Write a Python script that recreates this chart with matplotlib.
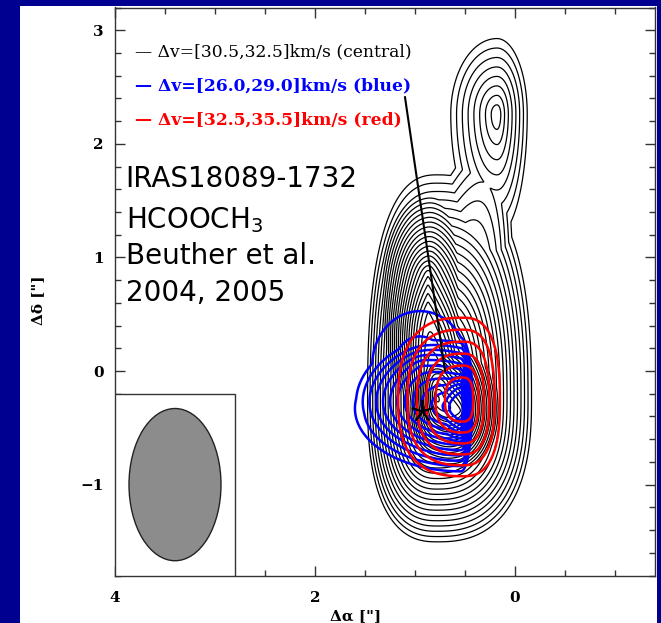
import numpy as np
import matplotlib.pyplot as plt
from matplotlib.patches import Ellipse, Rectangle

# map extent (arcsec offsets)
x_range = [4.0, -1.4]
y_range = [-1.8, 3.2]

# emission components:
# x0, y_low, y_high (peak ridge), radius east(+x), west(-x), north, south, peak, shape exponent
central_comp = [
    (0.78, -0.25, -0.25, 0.72, 0.98, 2.05, 1.30, 1.40, 2.5),
    (0.87, 0.55, 0.85, 0.45, 0.30, 0.70, 0.90, 0.35, 2.0),
    (0.18, 2.26, 2.26, 0.52, 0.34, 0.75, 1.20, 0.45, 2.0),
    (0.55, -0.35, -0.35, 0.50, 0.40, 0.50, 0.50, 0.50, 2.0),
]
blue_comp = [
    (0.54, -0.33, -0.33, 1.15, 0.12, 0.62, 0.60, 0.90, 2.0),
    (0.54, -0.50, -0.17, 0.15, 0.05, 0.15, 0.15, 0.15, 2.0),
    (0.95, 0.05, 0.05, 0.70, 0.70, 0.70, 0.70, 0.22, 2.0),
]
red_comp = [
    (0.52, -0.26, -0.26, 0.72, 0.41, 0.81, 0.74, 1.00, 2.6),
]

central_levels = np.arange(0.05, 2.40, 0.05)
blue_levels = [0.07, 0.14, 0.21, 0.28, 0.35, 0.42, 0.49, 0.56, 0.63, 0.70, 0.77, 0.84, 0.91]
red_levels = [0.10, 0.23, 0.36, 0.49, 0.62, 0.75]

legend_text = ["Δv=[30.5,32.5]km/s (central)",
               "Δv=[26.0,29.0]km/s (blue)",
               "Δv=[32.5,35.5]km/s (red)"]
label_lines = ["IRAS18089-1732", "HCOOCH$_3$", "Beuther et al.", "2004, 2005"]
label_y = [1.62, 1.26, 0.943, 0.617]

beam = (3.40, -1.0, 0.92, 1.34)   # x, y, width, height
star = (0.93, -0.35)
arrow = ([1.10, 0.70], [2.41, 0.0])


def field(X, Y, comps):
    Z = np.zeros_like(X)
    for x0, ylo, yhi, re, rw, rn, rs, a, p in comps:
        dx = X - x0
        dy = Y - np.clip(Y, ylo, yhi)
        u = np.abs(dx) / np.where(dx > 0, re, rw)
        v = np.abs(dy) / np.where(dy > 0, rn, rs)
        r = (u ** p + v ** p) ** (1.0 / p)
        Z += a * np.clip(1 - r, 0, None)
    return Z


xg = np.linspace(-1.4, 4.0, 540)
yg = np.linspace(-1.8, 3.2, 500)
X, Y = np.meshgrid(xg, yg)

fig = plt.figure(figsize=(6.61, 6.23), dpi=100, facecolor='#000090')
fig.patches.append(Rectangle((20 / 661, 0), 637 / 661, 617 / 623, transform=fig.transFigure,
                             facecolor='white', edgecolor='none', zorder=-5))
ax = fig.add_axes([115 / 661, 1 - 575.5 / 623, 540 / 661, 568 / 623])

ax.contour(X, Y, field(X, Y, central_comp), levels=central_levels, colors='black', linewidths=0.9)
ax.contour(X, Y, field(X, Y, blue_comp), levels=blue_levels, colors='#0000ff', linewidths=1.8)
ax.contour(X, Y, field(X, Y, red_comp), levels=red_levels, colors='#ff0000', linewidths=1.8)

ax.plot(arrow[0], arrow[1], color='black', lw=1.5)
ax.plot(star[0], star[1], marker=(5, 2, 0), ms=16, color='black', mew=1.3)

# beam
ax.add_patch(Rectangle((2.8, -1.8), 1.2, 1.6, facecolor='white', edgecolor='#333333', lw=1.0, zorder=3))
ax.add_patch(Ellipse((beam[0], beam[1]), beam[2], beam[3], facecolor='#8c8c8c',
                     edgecolor='#222222', lw=1.0, zorder=4))

# legend
cols = ['black', '#0000ff', '#ff0000']
weights = ['normal', 'bold', 'bold']
for i, (t, c, w) in enumerate(zip(legend_text, cols, weights)):
    ax.text(3.80, 2.81 - i * 0.30, '— ' + t, color=c, fontsize=12.3, fontweight=w,
            family='DejaVu Serif', va='center', ha='left')

for t, yy in zip(label_lines, label_y):
    ax.text(3.894, yy, t, fontsize=20, family='DejaVu Sans', va='baseline', ha='left')

ax.set_xlim(x_range)
ax.set_ylim(y_range)
ax.set_xticks([4, 2, 0])
ax.set_yticks([-1, 0, 1, 2, 3])
ax.set_xticks(np.arange(-1.0, 4.01, 0.5), minor=True)
ax.set_yticks(np.arange(-1.8, 3.21, 0.2), minor=True)
ax.tick_params(which='both', direction='in', top=True, right=True, labelsize=11, width=1.0,
               color='#333333')
ax.tick_params(which='major', length=7, pad=8)
ax.tick_params(axis='x', which='major', pad=11)
ax.tick_params(which='minor', length=4)
for lab in ax.get_xticklabels() + ax.get_yticklabels():
    lab.set_family('DejaVu Serif')
    lab.set_fontweight('bold')
for s in ax.spines.values():
    s.set_color('#333333')
    s.set_linewidth(1.0)

fig.text(356 / 661, 1 - 616 / 623, 'Δα ["]', fontsize=11, family='DejaVu Serif', fontweight='bold',
         ha='center', va='center')
fig.text(38 / 661, 1 - 300 / 623, 'Δδ ["]', fontsize=11, family='DejaVu Serif', fontweight='bold',
         ha='center', va='center', rotation=90)

fig.savefig('out.png', dpi=100, facecolor=fig.get_facecolor())
